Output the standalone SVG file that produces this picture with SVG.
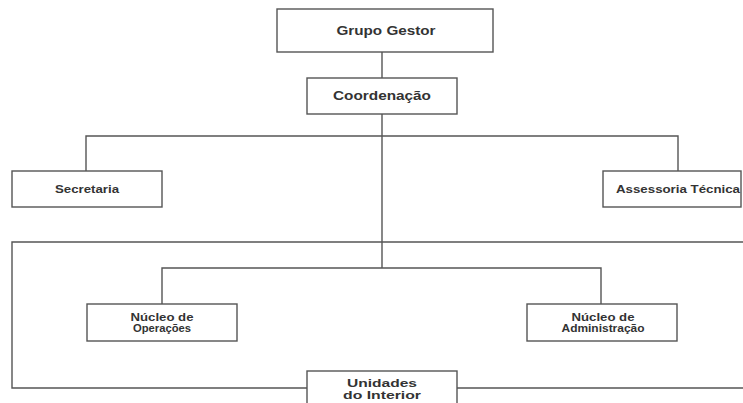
<svg xmlns="http://www.w3.org/2000/svg" width="743" height="403" viewBox="0 0 743 403">
<style>
.box{fill:#fff;stroke:#555;stroke-width:1.4}
.ln{fill:none;stroke:#555;stroke-width:1.4}
.t{font-family:"Liberation Sans",Arial,sans-serif;font-weight:bold;fill:#333;text-anchor:middle}
.big{font-size:12.5px}
.sm{font-size:10px}
.mid{font-size:11.5px}
</style>
<rect width="743" height="403" fill="#fff"/>
<g id="connectors">
<path class="ln" d="M382,52V78"/>
<path class="ln" d="M382,114V268"/>
<path class="ln" d="M86,171V136H678V171"/>
<path class="ln" d="M162,304V268H601V304"/>
<path class="ln" d="M743,242H12V388H743"/>
</g>
<g id="grupo-gestor">
<rect class="box" x="277" y="9" width="216" height="43"/>
<text class="t big" x="386" y="35" textLength="99" lengthAdjust="spacingAndGlyphs">Grupo Gestor</text>
</g>
<g id="coordenacao">
<rect class="box" x="307" y="78" width="150" height="36"/>
<text class="t big" x="382" y="100" textLength="98" lengthAdjust="spacingAndGlyphs">Coordenação</text>
</g>
<g id="secretaria">
<rect class="box" x="12" y="171" width="150" height="36"/>
<text class="t sm" x="87" y="193" textLength="64" lengthAdjust="spacingAndGlyphs">Secretaria</text>
</g>
<g id="assessoria-tecnica">
<rect class="box" x="603" y="171" width="138" height="36"/>
<text class="t sm" x="678" y="193" textLength="124" lengthAdjust="spacingAndGlyphs">Assessoria Técnica</text>
</g>
<g id="nucleo-operacoes">
<rect class="box" x="87" y="304" width="150" height="37"/>
<text class="t sm" x="162" y="320.5" textLength="63" lengthAdjust="spacingAndGlyphs">Núcleo de</text>
<text class="t sm" x="162" y="332" textLength="58" lengthAdjust="spacingAndGlyphs">Operações</text>
</g>
<g id="nucleo-administracao">
<rect class="box" x="527" y="304" width="150" height="37"/>
<text class="t sm" x="603" y="320.5" textLength="63" lengthAdjust="spacingAndGlyphs">Núcleo de</text>
<text class="t sm" x="603" y="332" textLength="83" lengthAdjust="spacingAndGlyphs">Administração</text>
</g>
<g id="unidades-interior">
<rect class="box" x="307" y="371" width="150" height="40"/>
<text class="t mid" x="382" y="387" textLength="70" lengthAdjust="spacingAndGlyphs">Unidades</text>
<text class="t mid" x="382" y="399" textLength="78" lengthAdjust="spacingAndGlyphs">do Interior</text>
</g>
</svg>
